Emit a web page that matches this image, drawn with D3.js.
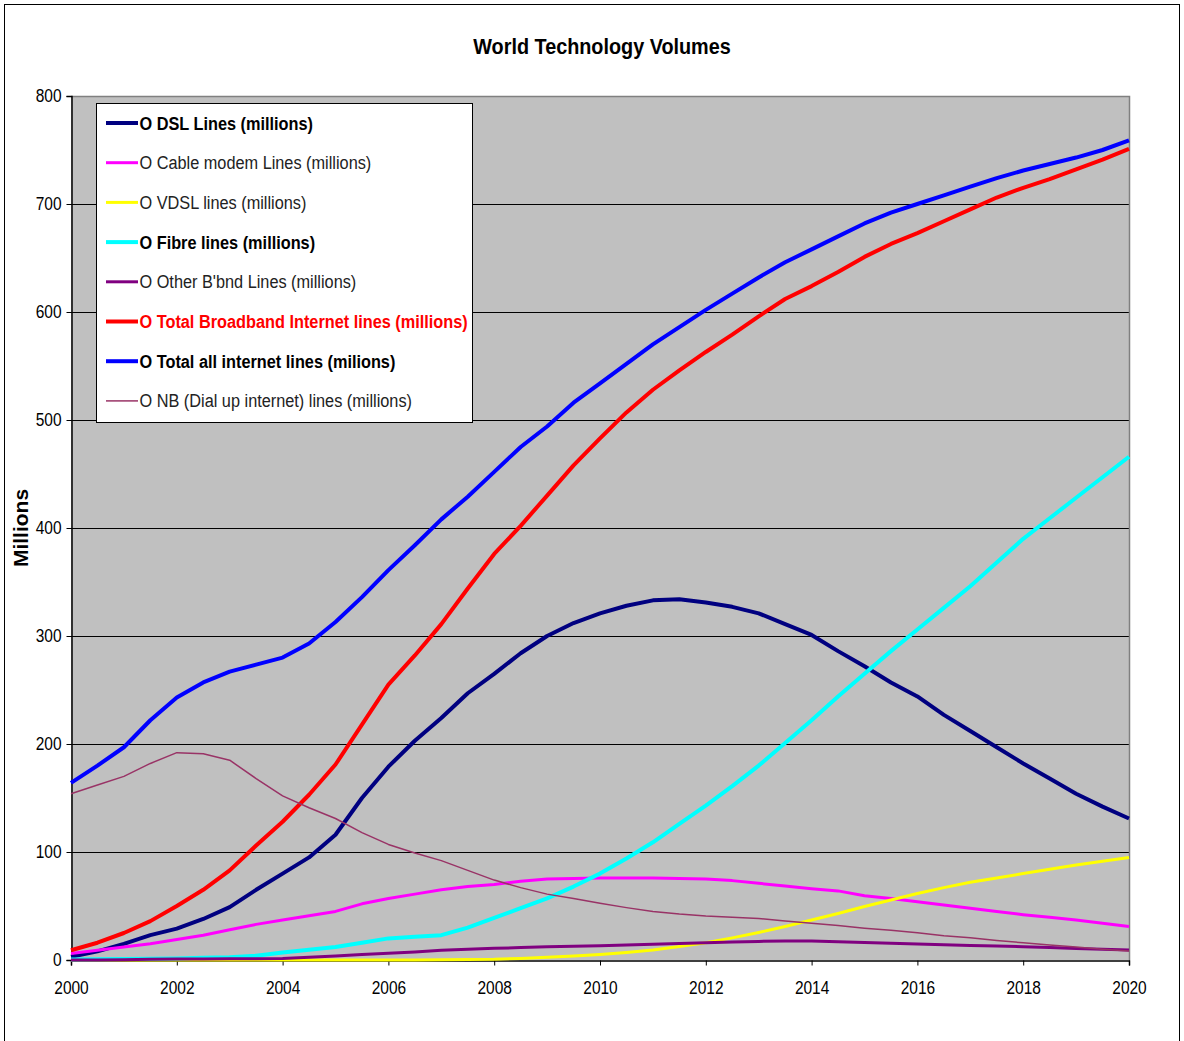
<!DOCTYPE html>
<html><head><meta charset="utf-8">
<script src="https://cdn.jsdelivr.net/npm/d3@7"></script>
<style>
html,body{margin:0;padding:0;background:#fff;}
svg{display:block;}
</style></head>
<body>
<svg id="chart" width="1184" height="1041"></svg>
<script>
const years = d3.range(2000, 2020.01, 0.5);
const dsl = [3,8,15,23,29,38,49,65,80,95,116,150,179,203,224,247,265,284,300,312,321,328,333,334,331,327,321,311,301,286,272,257,244,227,212,197,182,168,154,142,131];
const cable = [6,9,12,15,19,23,28,33,37,41,45,52,57,61,65,68,70,73,75,75.5,76,76,76,75.5,75,73.5,71,68.5,66,64,59.5,57,54,51,48,45,42,39.5,37,34,31];
const vdsl = [0,0,0,0,0,0,0,0,0,0,0,0,0,0,0.2,0.4,0.6,1.5,2.5,3.8,5.2,7,9.3,12.5,16,20.5,25.5,31,37,43,49.5,55.5,61.5,67,72,76,80,84,88,91.5,95];
const fibre = [0.5,0.7,1,1.2,1.5,2,2.5,4,7,9.5,12,16,20,21.5,23,30,39,48,57,68,80,94,109,126,143,161,180,201,222,244,265,286,306,326,346,368,390,409,428,447,466];
const other = [0,0,0.3,0.8,1,1,1.2,1.2,1.5,2.5,3.7,5,6.2,7.5,9,10,10.8,11.5,12.2,12.8,13.3,14,14.6,15.3,16,16.6,17.2,17.6,17.6,17,16.3,15.5,14.8,14.2,13.5,12.9,12.3,11.5,10.7,10,9.3];
const totalBB = [9,16,25,36,50,65,83,106,128,153,181,218,255,282,311,344,376,402,430,458,483,507,528,546,563,579,596,612,624,637,651,663,673,684,695,706,715,723,732,741,751];
const totalAll = [164,180,197,222,243,257,267,273.5,280,293,313,336,361,384,408,429,452,475,494,516,534,552,570,586,602,617,632,646,658,670,682,692,700,708,716,724,731,737,743,750,759];
const dialup = [154,162,170,182,192,191,185,168,152,141,131,118,107,99,92,83,74,67,61,57,52.5,48.5,45,42.5,40.7,39.5,38.5,36,34,32,29.5,27.5,25.3,22.5,20.5,18,16,14,12,10,8.3];

const seriesNames = ["O DSL Lines (millions)","O Cable modem Lines (millions)","O VDSL lines (millions)","O Fibre lines (millions)","O Other B'bnd Lines (millions)","O Total Broadband Internet lines (millions)","O Total all internet lines (milions)","O NB (Dial up internet) lines (millions)"];
const seriesValues = [dsl, cable, vdsl, fibre, other, totalBB, totalAll, dialup];
const xTicks = d3.range(2000, 2021, 2);
const yTicks = d3.range(0, 801, 100);

const colors = ["#000080","#ff00ff","#ffff00","#00ffff","#800080","#ff0000","#0000ff","#993366"];
const widths = [4,3,3,4,3,4,4,1.5];
const legendBold = [true,false,false,true,false,true,true,false];
const legendTextColor = ["#000","#222","#222","#000","#222","#ff0000","#000","#222"];

const FONT = "'Liberation Sans',Arial,sans-serif";
function condense(sel, f){
  sel.each(function(){
    const w = this.getComputedTextLength();
    d3.select(this).attr("textLength", w*f).attr("lengthAdjust","spacingAndGlyphs");
  });
}
const svg = d3.select("#chart");
svg.append("rect").attr("x",4.5).attr("y",4.5).attr("width",1175).attr("height",1045)
  .attr("fill","#fff").attr("stroke","#000").attr("stroke-width",1);

const L = 71, R = 1129, T = 96, B = 960;
const x = d3.scaleLinear().domain([2000,2020]).range([L,R]);
const y = d3.scaleLinear().domain([0,800]).range([B,T]);

svg.append("rect").attr("x",L).attr("y",T).attr("width",R-L).attr("height",B-T).attr("fill","#c0c0c0");
svg.append("g").selectAll("line").data(yTicks.filter(d=>d>0 && d<800)).join("line")
  .attr("x1",L).attr("x2",R).attr("y1",d=>y(d)+0.5).attr("y2",d=>y(d)+0.5)
  .attr("stroke","#000").attr("stroke-width",1);
svg.append("path").attr("d",`M${L},${T+0.5}H${R+0.5}V${B}`).attr("fill","none").attr("stroke","#808080").attr("stroke-width",1.5);

const yAxis = d3.axisLeft(y).tickValues(yTicks).tickSize(5).tickPadding(5).tickFormat(d3.format("d"));
const gy = svg.append("g").attr("transform",`translate(${L+0.5},0)`).call(yAxis);
const xAxis = d3.axisBottom(x).tickValues(xTicks).tickSize(5).tickPadding(16).tickFormat(d3.format("d"));
const gx = svg.append("g").attr("transform",`translate(0,${B+0.5})`).call(xAxis);
[gx,gy].forEach(g=>{
  g.select(".domain").attr("stroke","#000").attr("stroke-width",1.5);
  g.selectAll(".tick line").attr("stroke","#000");
  g.selectAll("text").attr("font-family",FONT).attr("font-size",18).attr("fill","#000");
  condense(g.selectAll("text"), 0.86);
});

const line = d3.line().x((d,i)=>x(years[i])).y(d=>y(d));
const gl = svg.append("g");
seriesValues.forEach((vals,k)=>{
  gl.append("path").datum(vals).attr("d",line).attr("fill","none")
    .attr("stroke",colors[k]).attr("stroke-width",widths[k]).attr("stroke-linejoin","round");
});

const title = svg.append("text").attr("x",602).attr("y",54).attr("text-anchor","middle")
  .attr("font-family",FONT).attr("font-weight","bold").attr("font-size",22).text("World Technology Volumes");
condense(title, 0.9);
const ylab = svg.append("text").attr("transform","translate(28,528) rotate(-90)").attr("text-anchor","middle")
  .attr("font-family",FONT).attr("font-weight","bold").attr("font-size",21).text("Millions");
condense(ylab, 1.0);

const lg = svg.append("g");
lg.append("rect").attr("x",96.5).attr("y",103.5).attr("width",376).attr("height",319)
  .attr("fill","#fff").attr("stroke","#000").attr("stroke-width",1);
seriesNames.forEach((name,k)=>{
  const yy = 123 + k*39.7;
  lg.append("line").attr("x1",106).attr("x2",138).attr("y1",yy).attr("y2",yy)
    .attr("stroke",colors[k]).attr("stroke-width",k===7?1.5:(legendBold[k]?4:3));
  const t = lg.append("text").attr("x",139.5).attr("y",yy+6.5).attr("font-family",FONT)
    .attr("font-size",18).attr("font-weight",legendBold[k]?"bold":"normal")
    .attr("fill",legendTextColor[k]).text(name);
  condense(t, 0.905);
});
</script>
</body></html>
